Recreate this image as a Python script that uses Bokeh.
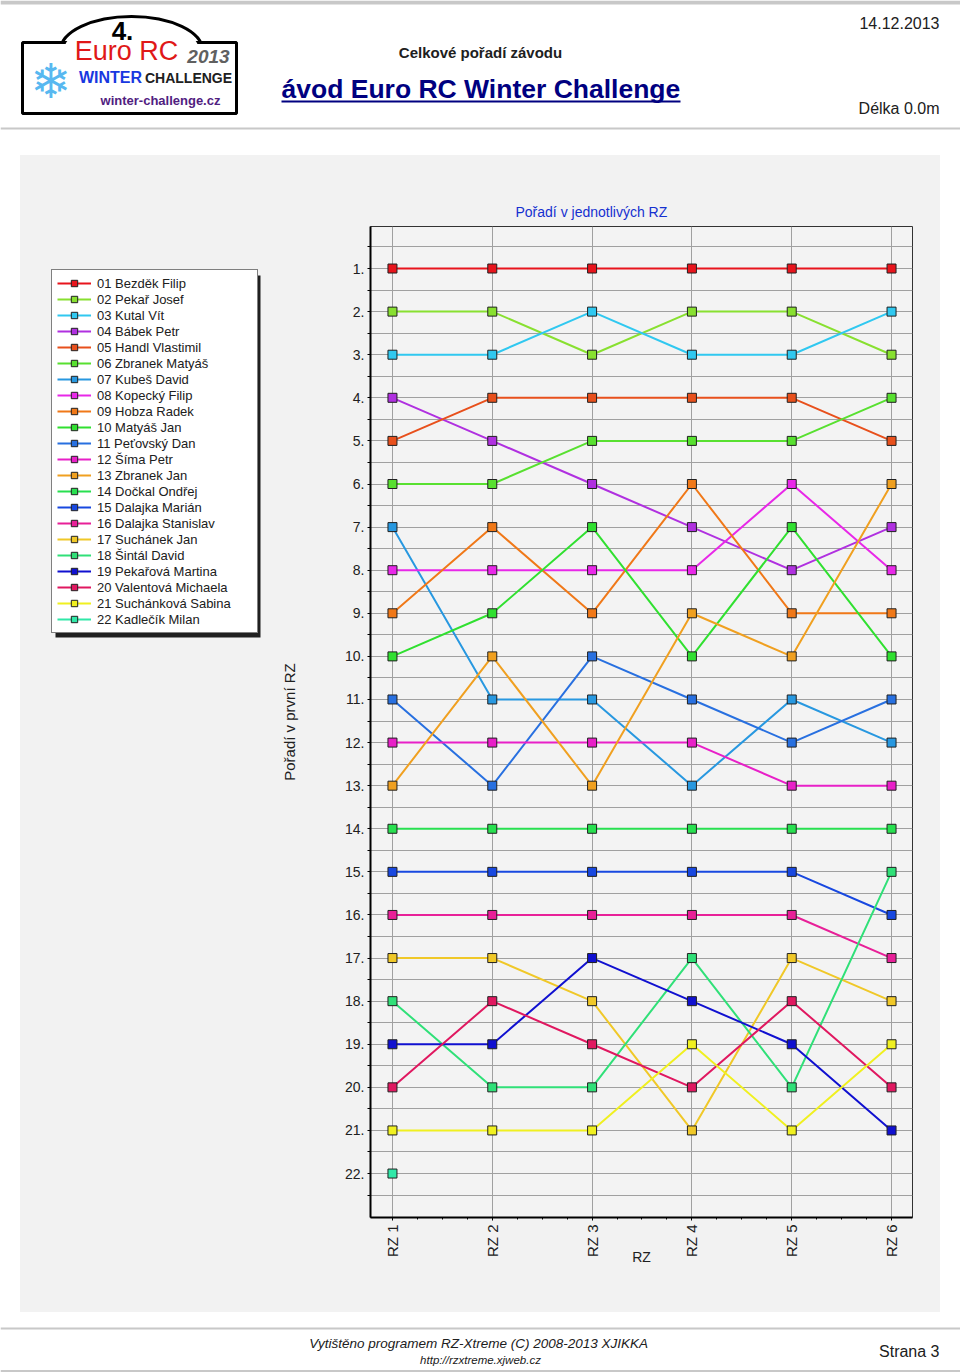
import math
from bokeh.plotting import figure
from bokeh.models import Range1d, FixedTicker, Legend, LegendItem, Spacer
from bokeh.layouts import column, row
from bokeh.embed import file_html
from bokeh.resources import INLINE
from bokeh.core.properties import value

# ---------------- data ----------------
stages = ["RZ 1", "RZ 2", "RZ 3", "RZ 4", "RZ 5", "RZ 6"]
drivers = [
    "01 Bezděk Filip", "02 Pekař Josef", "03 Kutal Vít", "04 Bábek Petr",
    "05 Handl Vlastimil", "06 Zbranek Matyáš", "07 Kubeš David", "08 Kopecký Filip",
    "09 Hobza Radek", "10 Matyáš Jan", "11 Peťovský Dan", "12 Šíma Petr",
    "13 Zbranek Jan", "14 Dočkal Ondřej", "15 Dalajka Marián", "16 Dalajka Stanislav",
    "17 Suchánek Jan", "18 Šintál David", "19 Pekařová Martina", "20 Valentová Michaela",
    "21 Suchánková Sabina", "22 Kadlečík Milan",
]
colors = [
    "#e8141c", "#88e030", "#30c8f0", "#b030e0", "#e8501c", "#58e030",
    "#2898e0", "#e828e8", "#f07818", "#30e030", "#2870e0", "#e820c8",
    "#f0a020", "#28e050", "#1848e0", "#e82098", "#f0c828", "#30e078",
    "#1010d0", "#e01860", "#f0f020", "#30e8a8",
]
# rank of every driver (in the order above) in each stage; None = no result
rz1 = [1, 2, 3, 4, 5, 6, 7, 8, 9, 10, 11, 12, 13, 14, 15, 16, 17, 18, 19, 20, 21, 22]
rz2 = [1, 2, 3, 5, 4, 6, 11, 8, 7, 9, 13, 12, 10, 14, 15, 16, 17, 20, 19, 18, 21, None]
rz3 = [1, 3, 2, 6, 4, 5, 11, 8, 9, 7, 10, 12, 13, 14, 15, 16, 18, 20, 17, 19, 21, None]
rz4 = [1, 2, 3, 7, 4, 5, 13, 8, 6, 10, 11, 12, 9, 14, 15, 16, 21, 17, 18, 20, 19, None]
rz5 = [1, 2, 3, 8, 4, 5, 11, 6, 9, 7, 12, 13, 10, 14, 15, 16, 17, 20, 19, 18, 21, None]
rz6 = [1, 3, 2, 7, 5, 4, 12, 8, 9, 10, 11, 13, 6, 14, 16, 17, 18, 15, 21, 20, 19, None]
rank_labels = [f"{i}." for i in range(1, 23)]

FONT = "Liberation Sans"
PANEL = "#f2f2f2"
TXT = "#202020"
NAN = float("nan")


def blank(w, h, fill, yr=None):
    f = figure(width=w, height=h, x_range=Range1d(0, w),
               y_range=yr if yr is not None else Range1d(h, 0),
               output_backend="svg", toolbar_location=None, min_border=0,
               outline_line_color=None, background_fill_color=fill,
               border_fill_color=fill)
    f.axis.visible = False
    f.grid.visible = False
    return f


def txt(f, x, y, s, size, style="normal", align="left", color=TXT, font=FONT):
    f.text(x=[x], y=[y], text=[s], text_font=value(font), text_font_size=size,
           text_font_style=style, text_align=align, text_baseline="middle",
           text_color=color)


# ---------------- header ----------------
HW, HH = 960, 155
hdr = blank(HW, HH, "white")
hdr.segment(x0=[0], y0=[2], x1=[HW], y1=[2], line_color="#c8c8c8", line_width=4)
hdr.segment(x0=[0], y0=[128], x1=[HW], y1=[128], line_color="#c8c8c8", line_width=2)
# logo (approximation)
hdr.ellipse(x=[131], y=[50], width=[142], height=[68], fill_color="white",
            line_color="black", line_width=3)
hdr.quad(left=[22], right=[236], top=[42], bottom=[113], fill_color="white",
         line_color="black", line_width=3)
hdr.ellipse(x=[131], y=[50], width=[135], height=[61], fill_color="white",
            line_color=None)
txt(hdr, 122, 30, "4.", "26px", "bold", "center", "black")
txt(hdr, 126, 50, "Euro RC", "27px", "normal", "center", "#e01818")
txt(hdr, 208, 56, "2013", "19px", "bold italic", "center", "#606060")
txt(hdr, 50, 80, "❄", "48px", "normal", "center", "#58b8f0", "DejaVu Sans")
txt(hdr, 110, 77, "WINTER", "16px", "bold", "center", "#1838e0")
txt(hdr, 188, 77, "CHALLENGE", "14px", "bold", "center", TXT)
txt(hdr, 160, 100, "winter-challenge.cz", "13px", "bold", "center", "#502080")
# titles
txt(hdr, 480, 52, "Celkové pořadí závodu", "15px", "bold", "center")
txt(hdr, 281, 88, "ávod Euro RC Winter Challenge", "26.5px", "bold", "left", "#000080")
hdr.segment(x0=[281], y0=[101], x1=[680], y1=[101], line_color="#000080", line_width=2)
txt(hdr, 939, 22, "14.12.2013", "16px", "normal", "right")
txt(hdr, 939, 108, "Délka 0.0m", "16px", "normal", "right")

# ---------------- main chart ----------------
MW, MH = 670, 1157
TOP, BOT = 71, 95
p = figure(width=MW, height=MH, output_backend="svg", toolbar_location=None,
           x_range=Range1d(0.78, 6.21), y_range=Range1d(23.02, 0.025),
           min_border_left=100, min_border_right=28, min_border_top=TOP,
           min_border_bottom=BOT, background_fill_color="#f3f3f3",
           border_fill_color=PANEL, outline_line_color="#333333",
           outline_line_width=1)

p.title.text = "Pořadí v jednotlivých RZ"
p.title.text_font = FONT
p.title.text_font_size = "14px"
p.title.text_font_style = "normal"
p.title.text_color = "#1530d0"
p.title.align = "left"
p.title.offset = 145
p.title.standoff = 13

yt = list(range(1, 23))
p.yaxis.ticker = FixedTicker(ticks=yt, minor_ticks=[i + 0.5 for i in range(0, 23)])
p.yaxis.major_label_overrides = {t: lab for t, lab in zip(yt, rank_labels)}
p.yaxis.axis_label = "Pořadí v první RZ"
p.yaxis.axis_label_text_font = FONT
p.yaxis.axis_label_text_font_size = "15px"
p.yaxis.axis_label_text_font_style = "normal"
p.yaxis.axis_label_text_color = TXT
p.yaxis.axis_label_standoff = 44
p.yaxis.major_label_text_font = FONT
p.yaxis.major_label_text_font_size = "14px"
p.yaxis.major_label_text_color = TXT
p.yaxis.major_label_standoff = 3
p.yaxis.major_tick_out = 3
p.yaxis.major_tick_in = 0
p.yaxis.minor_tick_out = 3
p.yaxis.minor_tick_in = 0
p.yaxis.axis_line_width = 2
p.yaxis.axis_line_color = "black"

xt = list(range(1, 7))
p.xaxis.ticker = FixedTicker(ticks=xt, minor_ticks=[1 + 0.25 * i for i in range(-1, 22)])
p.xaxis.major_label_overrides = {t: lab for t, lab in zip(xt, stages)}
p.xaxis.major_label_orientation = math.pi / 2
p.xaxis.axis_label = "RZ"
p.xaxis.axis_label_text_font = FONT
p.xaxis.axis_label_text_font_size = "14px"
p.xaxis.axis_label_text_font_style = "normal"
p.xaxis.axis_label_text_color = TXT
p.xaxis.axis_label_standoff = -11
p.xaxis.major_label_text_font = FONT
p.xaxis.major_label_text_font_size = "15px"
p.xaxis.major_label_text_color = TXT
p.xaxis.major_label_standoff = 4
p.xaxis.major_tick_out = 3
p.xaxis.major_tick_in = 0
p.xaxis.minor_tick_out = 2
p.xaxis.minor_tick_in = 0
p.xaxis.axis_line_width = 2
p.xaxis.axis_line_color = "black"

p.ygrid.grid_line_color = "#a0a0a0"
p.ygrid.minor_grid_line_color = "#a0a0a0"
p.xgrid.grid_line_color = "#a0a0a0"
p.xgrid.minor_grid_line_color = None

stage_x = list(range(1, len(stages) + 1))
stage_cols = [rz1, rz2, rz3, rz4, rz5, rz6]
for i, col in enumerate(colors):
    ys = [s[i] if s[i] is not None else NAN for s in stage_cols]
    p.line(stage_x, ys, line_color=col, line_width=2)
    px = [x for x, y in zip(stage_x, ys) if not math.isnan(y)]
    py = [y for y in ys if not math.isnan(y)]
    p.scatter(px, py, marker="square", size=9, fill_color=col,
              line_color=TXT, line_width=1)

# ---------------- legend panel (left part of the grey area) ----------------
# its frame is aligned with the chart frame, so its y range is given in
# panel pixels from TOP to MH - BOT
LW = 250
lg = blank(LW, MH, PANEL, yr=Range1d(MH - BOT, TOP))
items = []
for name, col in zip(drivers, colors):
    # legend keys only: no visible data (NaN)
    lr = lg.line(x=[NAN], y=[NAN], line_color=col, line_width=2)
    sr = lg.scatter(x=[NAN], y=[NAN], marker="square", size=9, fill_color=col,
                    line_color=TXT, line_width=1)
    items.append(LegendItem(label=name, renderers=[lr, sr]))

# drop shadow behind the legend box
lg.quad(left=[35], right=[240], top=[120], bottom=[482], fill_color="#202020",
        line_color=None)
legend = Legend(items=items, location=(31, 584), background_fill_color="white",
                background_fill_alpha=1, border_line_color="black",
                label_text_color=TXT, label_text_font=FONT,
                label_text_font_size="13px", glyph_width=34, glyph_height=16,
                label_height=16, spacing=0, padding=5, label_standoff=6,
                label_width=155, margin=0, border_line_width=1)
lg.add_layout(legend, "center")

# ---------------- footer ----------------
FW, FH = 960, 60
ftr = blank(FW, FH, "white")
ftr.segment(x0=[0], y0=[16], x1=[FW], y1=[16], line_color="#c8c8c8", line_width=2)
ftr.segment(x0=[0], y0=[59], x1=[FW], y1=[59], line_color="#c8c8c8", line_width=3)
txt(ftr, 480, 31, "Vytištěno programem RZ-Xtreme (C) 2008-2013  XJIKKA", "13.5px",
    "italic", "center")
txt(ftr, 480, 47, "http://rzxtreme.xjweb.cz", "11.5px", "italic", "center")
txt(ftr, 939, 39, "Strana 3", "16px", "normal", "right")

panel = row(lg, p, styles={"background-color": PANEL})
layout = column(hdr, row(Spacer(width=20, height=MH), panel), ftr)
open("out.html", "w").write(file_html(layout, INLINE))
